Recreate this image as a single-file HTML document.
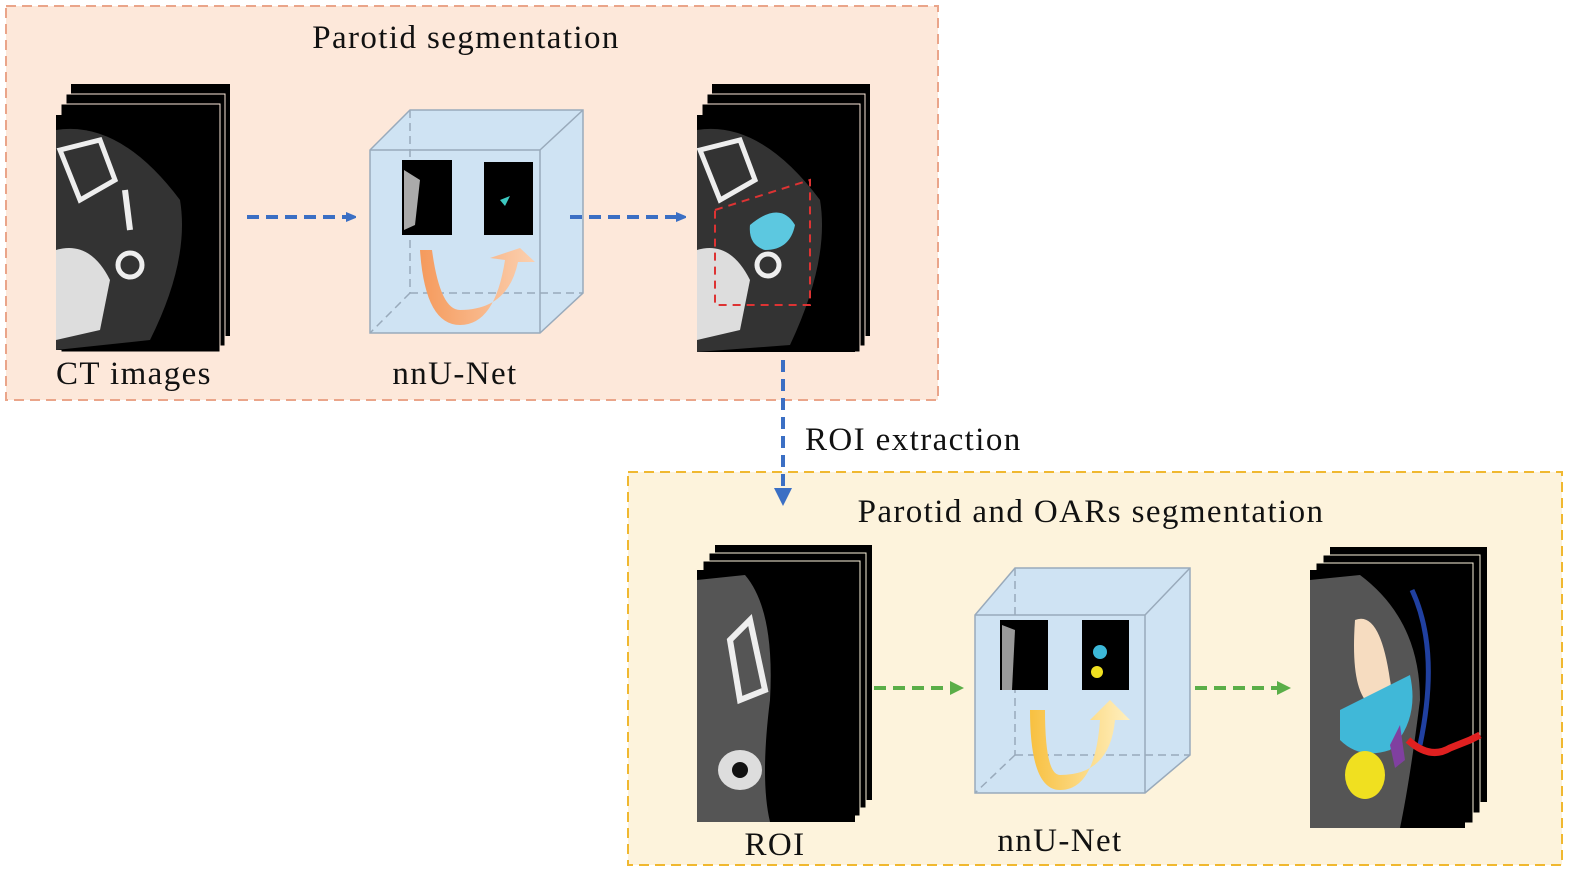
<!DOCTYPE html>
<html><head><meta charset="utf-8"><style>
body{margin:0;background:#fff;}
svg{display:block;}
text{font-family:"Liberation Serif",serif;fill:#111;font-size:33px;letter-spacing:1.4px;}
</style></head><body>
<svg width="1588" height="887" viewBox="0 0 1588 887" xmlns="http://www.w3.org/2000/svg">
<defs>
<marker id="ab" markerWidth="10" markerHeight="10" refX="6" refY="5" orient="auto" markerUnits="userSpaceOnUse"><path d="M0,0 L12,5 L0,10 Z" fill="#3b6fc4"/></marker>
<marker id="ag" markerWidth="14" markerHeight="14" refX="8" refY="7" orient="auto" markerUnits="userSpaceOnUse"><path d="M0,0 L14,7 L0,14 Z" fill="#5aae48"/></marker>
<linearGradient id="og" x1="0" y1="0" x2="1" y2="0"><stop offset="0" stop-color="#f59a5c"/><stop offset="1" stop-color="#fbd0b0"/></linearGradient>
<linearGradient id="yg" x1="0" y1="0" x2="1" y2="0"><stop offset="0" stop-color="#f8c040"/><stop offset="1" stop-color="#fff0c0"/></linearGradient>
</defs>
<!-- top box -->
<rect x="6" y="6" width="932" height="394" fill="#fde8da" stroke="#eaa58a" stroke-width="2" stroke-dasharray="10,6"/>
<text x="466" y="48" text-anchor="middle">Parotid segmentation</text>
<!-- CT stack -->
<g>
<rect x="71" y="84" width="159" height="252" fill="#000"/>
<rect x="66" y="94" width="159" height="252" fill="#000" stroke="#fde8da" stroke-width="1"/>
<rect x="61" y="104" width="159" height="248" fill="#000" stroke="#fde8da" stroke-width="1"/>
<rect x="56" y="115" width="159" height="235" fill="#000"/>
<path d="M56,130 Q120,120 180,200 Q190,260 150,340 L56,350Z" fill="#333"/>
<path d="M60,150 L100,140 L115,180 L80,200Z" fill="none" stroke="#eee" stroke-width="5"/>
<ellipse cx="130" cy="265" rx="12" ry="12" fill="none" stroke="#eee" stroke-width="5"/>
<path d="M56,250 Q90,240 110,280 L100,330 L56,340Z" fill="#ddd"/>
<path d="M125,190 L130,230" stroke="#eee" stroke-width="6"/>
</g>
<text x="56" y="384">CT images</text>
<line x1="247" y1="217" x2="352" y2="217" stroke="#3b6fc4" stroke-width="4" stroke-dasharray="12,7" marker-end="url(#ab)"/>
<!-- cube 1 -->
<g stroke="#9ab" stroke-width="1.5">
<polygon points="370,150 410,110 583,110 583,293 540,333 370,333" fill="#cfe3f3"/>
<line x1="370" y1="150" x2="540" y2="150"/><line x1="540" y1="150" x2="583" y2="110"/><line x1="540" y1="150" x2="540" y2="333"/>
<line x1="410" y1="110" x2="410" y2="293" stroke-dasharray="8,5"/><line x1="410" y1="293" x2="583" y2="293" stroke-dasharray="8,5"/><line x1="410" y1="293" x2="370" y2="333" stroke-dasharray="8,5"/>
</g>
<rect x="402" y="160" width="50" height="75" fill="#000"/>
<path d="M404,170 L420,180 L415,225 L404,230Z" fill="#aaa"/>
<rect x="484" y="162" width="49" height="73" fill="#000"/>
<path d="M500,200 L510,196 L505,206Z" fill="#3cc8c0"/>
<path d="M420,250 Q425,325 460,325 Q495,325 505,260 L490,258 L520,248 L535,262 L518,262 Q508,310 460,310 Q440,310 432,250Z" fill="url(#og)"/>
<text x="455" y="384" text-anchor="middle">nnU-Net</text>
<line x1="570" y1="217" x2="682" y2="217" stroke="#3b6fc4" stroke-width="4" stroke-dasharray="12,7" marker-end="url(#ab)"/>
<!-- output stack 1 -->
<rect x="712" y="84" width="158" height="252" fill="#000"/>
<rect x="707" y="94" width="158" height="252" fill="#000" stroke="#fde8da"/>
<rect x="702" y="104" width="158" height="248" fill="#000" stroke="#fde8da"/>
<rect x="697" y="115" width="158" height="237" fill="#000"/>
<path d="M697,130 Q760,120 820,200 Q830,260 790,345 L697,352Z" fill="#333"/>
<path d="M700,150 L740,140 L755,180 L720,200Z" fill="none" stroke="#eee" stroke-width="5"/>
<path d="M697,250 Q730,240 750,280 L740,330 L697,340Z" fill="#ddd"/>
<ellipse cx="768" cy="265" rx="11" ry="11" fill="none" stroke="#eee" stroke-width="5"/>
<path d="M750,225 Q780,200 795,225 Q790,250 765,250 Q748,245 750,225Z" fill="#5cc8e0"/>
<polygon points="715,210 810,180 810,305 715,305" fill="none" stroke="#d33" stroke-width="2" stroke-dasharray="8,6"/>
<!-- bottom box -->
<rect x="628" y="472" width="934" height="393" fill="#fdf3dc" stroke="#f0b830" stroke-width="2" stroke-dasharray="10,6"/>
<text x="1091" y="522" text-anchor="middle">Parotid and OARs segmentation</text>
<!-- vertical arrow -->
<line x1="783" y1="360" x2="783" y2="490" stroke="#3b6fc4" stroke-width="4" stroke-dasharray="12,7"/>
<path d="M774,488 L792,488 L783,506Z" fill="#3b6fc4"/>
<text x="805" y="450">ROI extraction</text>
<!-- ROI stack -->
<rect x="715" y="545" width="157" height="255" fill="#000"/>
<rect x="709" y="553" width="157" height="255" fill="#000" stroke="#fdf3dc"/>
<rect x="703" y="561" width="157" height="255" fill="#000" stroke="#fdf3dc"/>
<rect x="697" y="570" width="158" height="252" fill="#000"/>
<path d="M697,580 L745,575 Q775,610 770,700 Q760,780 770,822 L697,822Z" fill="#555"/>
<path d="M730,640 L750,620 L765,690 L740,700Z" fill="none" stroke="#eee" stroke-width="6"/>
<ellipse cx="740" cy="770" rx="22" ry="20" fill="#ddd"/>
<ellipse cx="740" cy="770" rx="8" ry="8" fill="#111"/>
<text x="775" y="855" text-anchor="middle">ROI</text>
<line x1="874" y1="688" x2="958" y2="688" stroke="#5aae48" stroke-width="4" stroke-dasharray="12,7" marker-end="url(#ag)"/>
<!-- cube 2 -->
<g stroke="#9ab" stroke-width="1.5">
<polygon points="975,615 1015,568 1190,568 1190,755 1145,793 975,793" fill="#cfe3f3"/>
<line x1="975" y1="615" x2="1145" y2="615"/><line x1="1145" y1="615" x2="1190" y2="568"/><line x1="1145" y1="615" x2="1145" y2="793"/>
<line x1="1015" y1="568" x2="1015" y2="755" stroke-dasharray="8,5"/><line x1="1015" y1="755" x2="1190" y2="755" stroke-dasharray="8,5"/><line x1="1015" y1="755" x2="975" y2="793" stroke-dasharray="8,5"/>
</g>
<rect x="1000" y="620" width="48" height="70" fill="#000"/>
<path d="M1002,625 L1015,630 L1012,690 L1002,690Z" fill="#999"/>
<rect x="1082" y="620" width="47" height="70" fill="#000"/>
<circle cx="1100" cy="652" r="7" fill="#3cb8d8"/><circle cx="1097" cy="672" r="6" fill="#f0e020"/>
<path d="M1030,710 Q1030,790 1060,790 Q1095,790 1100,720 L1090,720 L1110,700 L1130,720 L1115,720 Q1110,775 1060,775 Q1045,775 1045,710Z" fill="url(#yg)"/>
<text x="1060" y="851" text-anchor="middle">nnU-Net</text>
<line x1="1195" y1="688" x2="1285" y2="688" stroke="#5aae48" stroke-width="4" stroke-dasharray="12,7" marker-end="url(#ag)"/>
<!-- output stack 2 -->
<rect x="1330" y="547" width="157" height="255" fill="#000"/>
<rect x="1323" y="555" width="157" height="258" fill="#000" stroke="#fdf3dc"/>
<rect x="1316" y="563" width="157" height="260" fill="#000" stroke="#fdf3dc"/>
<rect x="1310" y="570" width="155" height="258" fill="#000"/>
<path d="M1310,580 L1360,575 Q1420,620 1420,700 Q1410,780 1400,828 L1310,828Z" fill="#555"/>
<path d="M1412,590 Q1440,650 1420,745" fill="none" stroke="#2040a0" stroke-width="5"/>
<path d="M1355,620 Q1380,610 1390,680 Q1395,700 1370,705 Q1350,690 1355,620Z" fill="#f6dcc0"/>
<path d="M1340,710 Q1380,690 1410,675 Q1420,720 1390,750 Q1360,760 1340,740Z" fill="#40b8d8"/>
<path d="M1390,745 L1400,725 L1405,760 L1395,768Z" fill="#8040a0"/>
<path d="M1408,740 Q1430,760 1450,748 L1470,740 L1480,735" fill="none" stroke="#e02020" stroke-width="7"/>
<ellipse cx="1365" cy="775" rx="20" ry="24" fill="#f0e020"/>
</svg>
</body></html>
